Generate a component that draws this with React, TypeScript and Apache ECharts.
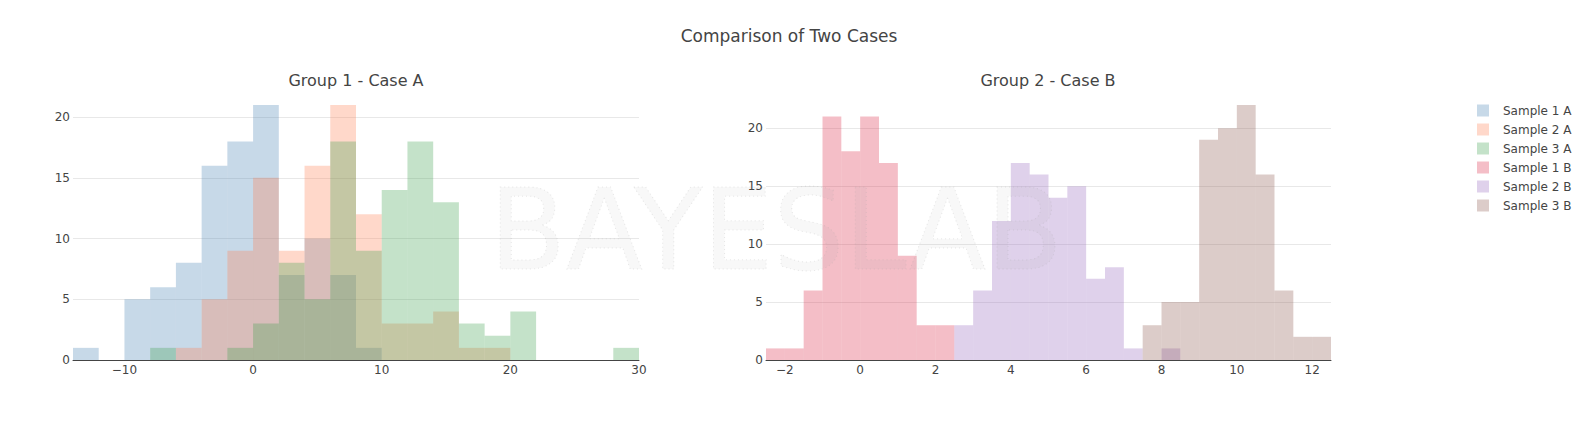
import { useEffect, useRef } from "react";
import * as echarts from "echarts";

// histogram bin edges
const edgesA = [-14, -12, -10, -8, -6, -4, -2, 0, 2, 4, 6, 8, 10, 12, 14, 16, 18, 20, 22, 24, 26, 28, 30];
const edgesB = [
  -2.5, -2, -1.5, -1, -0.5, 0, 0.5, 1, 1.5, 2, 2.5, 3, 3.5, 4, 4.5, 5, 5.5, 6, 6.5, 7, 7.5, 8, 8.5, 9, 9.5,
  10, 10.5, 11, 11.5, 12, 12.5,
];

// counts per bin
const sample1A = [1, 0, 5, 6, 8, 16, 18, 21, 7, 10, 7, 1, 0, 0, 0, 0, 0, 0, 0, 0, 0, 0];
const sample2A = [0, 0, 0, 0, 1, 5, 9, 15, 9, 16, 21, 12, 3, 3, 4, 1, 1, 0, 0, 0, 0, 0];
const sample3A = [0, 0, 0, 1, 0, 0, 1, 3, 8, 5, 18, 9, 14, 18, 13, 3, 2, 4, 0, 0, 0, 1];

const sample1B = [1, 1, 6, 21, 18, 21, 17, 9, 3, 3, 0, 0, 0, 0, 0, 0, 0, 0, 0, 0, 0, 0, 0, 0, 0, 0, 0, 0, 0, 0];
const sample2B = [0, 0, 0, 0, 0, 0, 0, 0, 0, 0, 3, 6, 12, 17, 16, 14, 15, 7, 8, 1, 0, 1, 0, 0, 0, 0, 0, 0, 0, 0];
const sample3B = [0, 0, 0, 0, 0, 0, 0, 0, 0, 0, 0, 0, 0, 0, 0, 0, 0, 0, 0, 0, 3, 5, 5, 19, 20, 22, 16, 6, 2, 2];

const xTicksA = [-10, 0, 10, 20, 30];
const xTicksB = [-2, 0, 2, 4, 6, 8, 10, 12];

const seriesNames = ["Sample 1 A", "Sample 2 A", "Sample 3 A", "Sample 1 B", "Sample 2 B", "Sample 3 B"];
const baseColors = ["#4682b4", "#ff7f50", "#3ca04b", "#dc2846", "#9467bd", "#8c564b"];

const FONT = "Verdana, 'DejaVu Sans', sans-serif";
const TEXT = "#444";

function withAlpha(hex: string, a: number) {
  const n = parseInt(hex.slice(1), 16);
  return `rgba(${(n >> 16) & 255}, ${(n >> 8) & 255}, ${n & 255}, ${a})`;
}

function toRows(edges: number[], counts: number[]) {
  return counts.map((c, i) => [edges[i], edges[i + 1], c]);
}

const minus = (v: number) => String(v).replace("-", "\u2212");

function histSeries(name: string, color: string, rows: number[][], axis: number) {
  return {
    name,
    type: "custom",
    xAxisIndex: axis,
    yAxisIndex: axis,
    encode: { x: [0, 1], y: 2 },
    itemStyle: { color },
    clip: true,
    data: rows,
    renderItem: (_params: unknown, api: any) => {
      const top = api.coord([api.value(0), api.value(2)]);
      const base = api.coord([api.value(1), 0]);
      return {
        type: "rect",
        shape: { x: top[0], y: top[1], width: base[0] - top[0], height: base[1] - top[1] },
        style: { fill: color },
      };
    },
  };
}

function xAxis(grid: number, min: number, max: number, ticks: number[]) {
  return {
    type: "value",
    gridIndex: grid,
    min,
    max,
    axisLine: { show: true, lineStyle: { color: TEXT, width: 1 } },
    axisTick: { show: false },
    splitLine: { show: false },
    axisLabel: {
      customValues: ticks,
      color: TEXT,
      fontSize: 12,
      fontFamily: FONT,
      margin: 4,
      formatter: minus,
    },
  };
}

function yAxis(grid: number, max: number) {
  return {
    type: "value",
    gridIndex: grid,
    min: 0,
    max,
    interval: 5,
    axisLine: { show: false },
    axisTick: { show: false },
    splitLine: { show: true, showMaxLine: false, lineStyle: { color: "#e8e8e8", width: 1 } },
    axisLabel: { color: TEXT, fontSize: 12, fontFamily: FONT, margin: 3, showMaxLabel: false },
  };
}

function titleText(text: string, x: number, y: number, size: number) {
  return {
    type: "text",
    x,
    y,
    style: {
      text,
      fill: TEXT,
      fontSize: size,
      fontFamily: FONT,
      align: "center",
      verticalAlign: "middle",
      textAlign: "center",
      textVerticalAlign: "middle",
    },
  };
}

export default function App() {
  const ref = useRef<HTMLDivElement>(null);

  useEffect(() => {
    document.body.style.margin = "0";
    if (!ref.current) return;
    const chart = echarts.init(ref.current, undefined, { renderer: "svg" });
    const colors = baseColors.map((c) => withAlpha(c, 0.3));
    const countsA = [sample1A, sample2A, sample3A];
    const countsB = [sample1B, sample2B, sample3B];

    chart.setOption({
      animation: false,
      backgroundColor: "#fff",
      grid: [
        { left: 73, right: 952, top: 105, bottom: 67 },
        { left: 766, right: 260, top: 105, bottom: 67 },
      ],
      xAxis: [xAxis(0, -14, 30, xTicksA), xAxis(1, -2.5, 12.5, xTicksB)],
      yAxis: [yAxis(0, 21), yAxis(1, 22)],
      legend: {
        orient: "vertical",
        left: 1472,
        top: 99.5,
        itemWidth: 12,
        itemHeight: 12,
        itemGap: 7,
        icon: "rect",
        data: seriesNames,
        textStyle: { color: TEXT, fontSize: 12, fontFamily: FONT, padding: [0, 0, 0, 9] },
      },
      graphic: [
        titleText("Comparison of Two Cases", 789, 36, 17),
        titleText("Group 1 - Case A", 356, 80.5, 16),
        titleText("Group 2 - Case B", 1048, 80.5, 16),
        {
          // faint watermark across the plots
          type: "text",
          x: 776,
          y: 230,
          z: 100,
          silent: true,
          style: {
            text: "BAYESLAB",
            fontSize: 112,
            fontFamily: FONT,
            fill: "rgba(150,150,150,0.07)",
            stroke: "rgba(170,170,170,0.25)",
            lineWidth: 1,
            lineDash: [1, 3],
            align: "center",
            verticalAlign: "middle",
            textAlign: "center",
            textVerticalAlign: "middle",
          },
        },
      ],
      series: [
        ...countsA.map((c, i) => histSeries(seriesNames[i], colors[i], toRows(edgesA, c), 0)),
        ...countsB.map((c, i) => histSeries(seriesNames[i + 3], colors[i + 3], toRows(edgesB, c), 1)),
      ],
    });

    return () => chart.dispose();
  }, []);

  return <div ref={ref} style={{ width: 1591, height: 427 }} />;
}
